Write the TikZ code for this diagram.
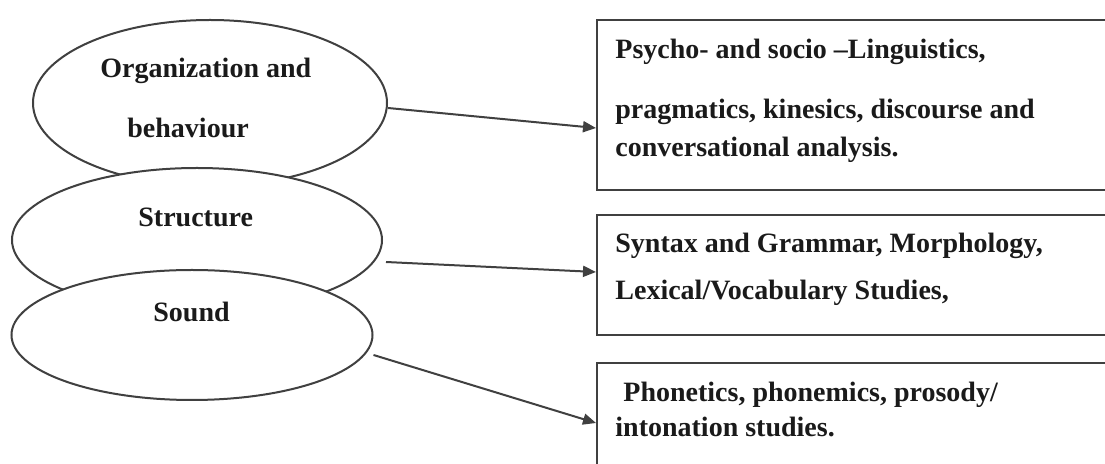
\documentclass[tikz,border=0pt]{standalone}
\usepackage{fontspec}
\setmainfont{Liberation Serif}
\usetikzlibrary{shapes.geometric,arrows.meta}
\definecolor{linegray}{HTML}{404040}
\definecolor{textblack}{HTML}{1A1A1A}
\begin{document}
\begin{tikzpicture}[x=0.5pt,y=-0.5pt,
  oval/.style={ellipse,draw=linegray,line width=1pt,fill=white,inner sep=0pt},
  box/.style={rectangle,draw=linegray,line width=1pt,fill=white,inner sep=0pt,minimum width=261.5pt},
  txt/.style={anchor=base west,inner sep=0pt,font=\bfseries\fontsize{14}{16}\selectfont,text=textblack},
  conn/.style={draw=linegray,line width=1pt,-{Triangle[length=6.5pt,width=5.5pt]}}]
\clip (0,0) rectangle (1105,464);
\fill[white] (0,0) rectangle (1105,464);
% ellipses (later ones cover earlier ones)
\node[oval,minimum width=177pt,minimum height=83pt] (e1) at (210,103) {};
\node[oval,minimum width=185pt,minimum height=72pt] (e2) at (197,240) {};
\node[oval,minimum width=180.5pt,minimum height=65pt] (e3) at (192,335) {};
\node[txt] (o1) at (100,78) {Organization and};
\node[txt] (o2) at (127,138) {behaviour};
\node[txt] (s1) at (138,227) {Structure};
\node[txt] (d1) at (153,322) {Sound};
% boxes
\node[box,minimum height=85pt] (b1) at (858.5,105) {};
\node[box,minimum height=60pt] (b2) at (858.5,275) {};
\node[box,minimum height=60pt] (b3) at (858.5,423) {};
\node[txt] (p1) at (615,59) {Psycho- and socio –Linguistics,};
\node[txt] (p2) at (615,119) {pragmatics, kinesics, discourse and};
\node[txt] (p3) at (615,157) {conversational analysis.};
\node[txt] (g1) at (615,253) {Syntax and Grammar, Morphology,};
\node[txt] (g2) at (615,300) {Lexical/Vocabulary Studies,};
\node[txt] (f1) at (623,402) {Phonetics, phonemics, prosody/};
\node[txt] (f2) at (615,437) {intonation studies.};
% connectors
\draw[conn] ([yshift=-2.5pt]e1.east) -- ([yshift=-11.5pt]b1.west);
\draw[conn] ([xshift=1.5pt,yshift=-11pt]e2.east) -- ([yshift=1.5pt]b2.west);
\draw[conn] ([yshift=-10pt]e3.east) -- (b3.west);
\end{tikzpicture}
\end{document}
